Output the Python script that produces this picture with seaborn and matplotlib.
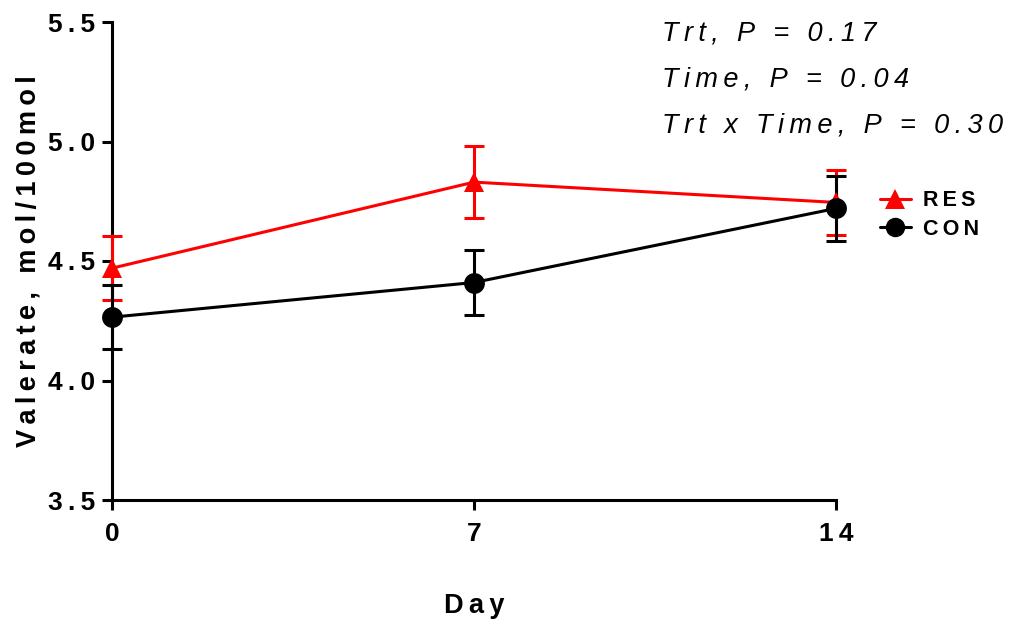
import matplotlib
matplotlib.use("Agg")
import matplotlib.pyplot as plt
import seaborn as sns
import pandas as pd
from matplotlib.lines import Line2D

sns.set_style("white")
plt.rcParams['font.family'] = ['Liberation Sans', 'DejaVu Sans']
plt.rcParams.update({"text.color": "black", "axes.labelcolor": "black",
                     "xtick.color": "black", "ytick.color": "black"})

days = [0, 7, 14]
res_mean = [4.47, 4.83, 4.745]
res_se = [0.135, 0.15, 0.135]
con_mean = [4.265, 4.41, 4.72]
con_se = [0.135, 0.135, 0.135]
groups = ["RES", "CON"]
colors = {"RES": "#ff0000", "CON": "#000000"}
markers = {"RES": "^", "CON": "o"}
stats_text = ["Trt, P = 0.17", "Time, P = 0.04", "Trt x Time, P = 0.30"]

TS = "\u2009"


def spaced(s, sep=TS):
    return sep.join(s)


df = pd.DataFrame({
    "Day": days * 2,
    "Value": res_mean + con_mean,
    "SE": res_se + con_se,
    "Group": ["RES"] * 3 + ["CON"] * 3,
})

fig = plt.figure(figsize=(10.1, 6.2), dpi=100)
ax = fig.add_axes([112/1010, 120/620, 724/1010, 478/620])

for g in groups:
    sub = df[df.Group == g]
    ax.errorbar(sub.Day, sub.Value, yerr=sub.SE, fmt="none", ecolor=colors[g],
                elinewidth=2.2, capsize=7, capthick=2.2, clip_on=False, zorder=3)
    sns.lineplot(data=sub, x="Day", y="Value", ax=ax, color=colors[g],
                 marker=markers[g], markersize=15, markeredgewidth=0,
                 linewidth=2.2, clip_on=False, zorder=4, legend=False)

ax.set_xlim(0, 14)
ax.set_ylim(3.5, 5.5)
ax.set_xticks(days)
ax.set_xticklabels([spaced(str(d)) for d in days])
yt = [3.5, 4.0, 4.5, 5.0, 5.5]
ax.set_yticks(yt)
ax.set_yticklabels([spaced(f"{v:.1f}") for v in yt])
for s in ["top", "right"]:
    ax.spines[s].set_visible(False)
for s in ["left", "bottom"]:
    ax.spines[s].set_linewidth(2.2)
    ax.spines[s].set_color("black")
ax.tick_params(axis="both", direction="out", length=7, width=2.2, color="black",
               labelsize=19, left=True, bottom=True)
ax.tick_params(axis="x", pad=9)
ax.tick_params(axis="y", pad=5)
for lab in ax.get_xticklabels() + ax.get_yticklabels():
    lab.set_fontweight("bold")

ax.set_xlabel(spaced("Day"), fontsize=19.5, fontweight="bold", labelpad=34)
ax.set_ylabel(spaced("Valerate, mol/100mol"),
              fontsize=19.5, fontweight="bold", labelpad=5)

for i, t in enumerate(stats_text):
    fig.text(662/1010, 1 - (33 + i*46)/620, spaced(t), fontsize=19.5,
             fontstyle="italic", ha="left", va="center")

handles = [Line2D([], [], color=colors[g], marker=markers[g], markersize=14,
                  linewidth=2.2, markeredgewidth=0) for g in groups]
leg = fig.legend(handles, [spaced(g) for g in groups], loc="center left",
                 bbox_to_anchor=(861/1010, 1 - 215/620), frameon=False,
                 handlelength=1.4, handletextpad=0.6, labelspacing=0.35,
                 prop={"weight": "bold", "size": 15.5})

fig.savefig("out.png", dpi=100)
